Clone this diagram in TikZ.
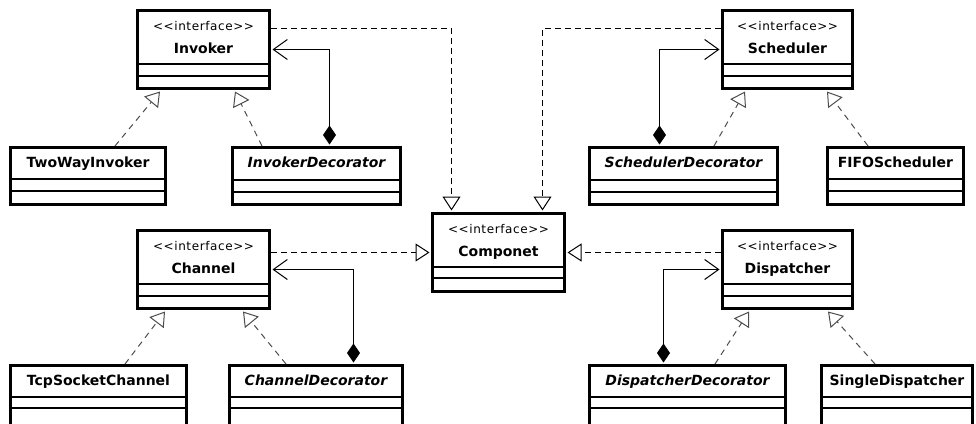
\documentclass[tikz,border=0pt]{standalone}
\usepackage{fontspec}
\setmainfont{DejaVu Sans}
\newfontfamily\stereofont[LetterSpace=5]{DejaVu Sans}
\usetikzlibrary{arrows.meta,calc}

\tikzset{
  classframe/.style={draw, line width=3pt, rectangle, inner sep=0pt, fill=white},
  divider/.style={line width=1.6pt},
  stereo/.style={inner sep=0pt, anchor=base, font=\stereofont\fontsize{12}{14}\selectfont},
  cname/.style={inner sep=0pt, anchor=base, font=\bfseries\fontsize{14}{16}\selectfont},
  aname/.style={inner sep=0pt, anchor=base, font=\bfseries\itshape\fontsize{14}{16}\selectfont},
  realize/.style={dash pattern=on 6pt off 4pt, line width=1pt,
    -{Triangle[open, length=14pt, width=18pt, line width=1pt]}},
  realizediag/.style={realize, draw=black!70, dash pattern=on 6pt off 5pt},
  compose/.style={line width=1pt,
    {Diamond[length=19pt, width=13pt]}-{Straight Barb[length=14pt, width=20pt, line width=1pt]}},
}

% class box: name, x1, y1, x2, y2, first divider, second divider
\newcommand\umlbox[7]{%
  \node[classframe, minimum width={#4-#2}, minimum height={#5-#3}] (#1) at ({(#2+#4)/2},{(#3+#5)/2}) {};
  \draw[divider] (#2,#6) -- (#4,#6);
  \draw[divider] (#2,#7) -- (#4,#7);
}

\begin{document}
\begin{tikzpicture}[x=1pt,y=-1pt]
\useasboundingbox (0,0) rectangle (976,423);
\clip (0,0) rectangle (976,423);

% interfaces
\umlbox{inv}{137.5}{10.5}{269.5}{88.5}{64}{76}
\umlbox{sch}{722.5}{10.5}{852.5}{88.5}{64}{76}
\umlbox{chn}{137.5}{230.5}{269.5}{308.5}{284}{296}
\umlbox{dsp}{722.5}{230.5}{852.5}{308.5}{284}{296}
\umlbox{cmp}{432.5}{213.5}{564.5}{291.5}{267}{278}

% implementing classes
\umlbox{twi}{10.5}{147.5}{165.5}{204.5}{179}{191}
\umlbox{ivd}{232.5}{147.5}{400.5}{204.5}{180}{192}
\umlbox{scd}{589.5}{147.5}{777.5}{204.5}{180}{192}
\umlbox{ffs}{827.5}{147.5}{963.5}{204.5}{179}{191}
\umlbox{tcp}{10.5}{365.5}{186.5}{430}{397}{408}
\umlbox{chd}{229.5}{365.5}{402.5}{430}{397}{408}
\umlbox{dpd}{589.5}{365.5}{785.5}{430}{397}{408}
\umlbox{sgd}{821.5}{365.5}{972.5}{430}{397}{408}

% labels
\foreach \b/\t in {inv/Invoker, sch/Scheduler, chn/Channel, dsp/Dispatcher, cmp/Componet}{
  \node[stereo] (\b-st) at ($(\b.north)+(0,21.5)$) {<<interface>>};
  \node[cname] (\b-nm) at ($(\b.north)+(0,44)$) {\t};
}
\foreach \b/\t in {twi/TwoWayInvoker, ffs/FIFOScheduler, tcp/TcpSocketChannel, sgd/SingleDispatcher}{
  \node[cname] (\b-nm) at ($(\b.north)+(0,21)$) {\t};
}
\foreach \b/\t in {ivd/InvokerDecorator, scd/SchedulerDecorator, chd/ChannelDecorator, dpd/DispatcherDecorator}{
  \node[aname] (\b-nm) at ($(\b.north)+(0,21)$) {\t};
}

% interfaces realizing Componet
\draw[realize] ([yshift=21pt]inv.east) -| ([xshift=-47pt,yshift=1.5pt]cmp.north);
\draw[realize] ([yshift=21pt]sch.west) -| ([xshift=44pt,yshift=1.5pt]cmp.north);
\draw[realize] (chn.east |- cmp.west) -- ([xshift=-1.5pt]cmp.west);
\draw[realize] (dsp.west |- cmp.east) -- ([xshift=1.5pt]cmp.east);

% decorators composing their interface
\draw[compose] ([xshift=13pt,yshift=1.5pt]ivd.north) |- ([xshift=1.5pt]inv.east);
\draw[compose] ([xshift=-24pt,yshift=1.5pt]scd.north) |- ([xshift=-1.5pt]sch.west);
\draw[compose] ([xshift=37.5pt,yshift=1.5pt]chd.north) |- ([xshift=1.5pt]chn.east);
\draw[compose] ([xshift=-24pt,yshift=1.5pt]dpd.north) |- ([xshift=-1.5pt]dsp.west);

% classes realizing the interfaces
\draw[realizediag] ([xshift=27pt]twi.north) -- ([xshift=-43.5pt,yshift=-1.5pt]inv.south);
\draw[realizediag] ([xshift=-54.5pt]ivd.north) -- ([xshift=31.5pt,yshift=-1.5pt]inv.south);
\draw[realizediag] ([xshift=30.5pt]scd.north) -- ([xshift=-42.5pt,yshift=-1.5pt]sch.south);
\draw[realizediag] ([xshift=-27.5pt]ffs.north) -- ([xshift=39.5pt,yshift=-1.5pt]sch.south);
\draw[realizediag] ([xshift=26.5pt]tcp.north) -- ([xshift=-38.5pt,yshift=-1.5pt]chn.south);
\draw[realizediag] ([xshift=-30pt]chd.north) -- ([xshift=39.5pt,yshift=-1.5pt]chn.south);
\draw[realizediag] ([xshift=27.5pt]dpd.north) -- ([xshift=-38.5pt,yshift=-1.5pt]dsp.south);
\draw[realizediag] ([xshift=-22pt]sgd.north) -- ([xshift=40.5pt,yshift=-1.5pt]dsp.south);
\end{tikzpicture}
\end{document}
